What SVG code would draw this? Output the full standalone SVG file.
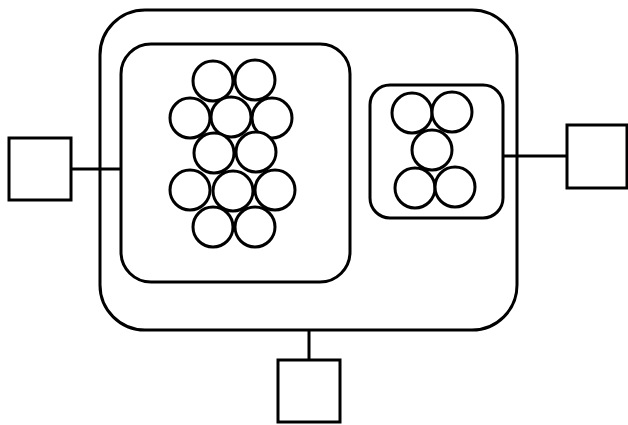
<svg xmlns="http://www.w3.org/2000/svg" width="628" height="425" viewBox="0 0 628 425">
<style>
.s{fill:none;stroke:#000;stroke-width:3}
.c{fill:#fff;stroke:#000;stroke-width:3}
.l{stroke:#000;stroke-width:3;fill:none}
</style>
<rect width="628" height="425" fill="#fff"/>
<g id="connectors">
<line class="l" x1="71" y1="169" x2="121" y2="169"/>
<line class="l" x1="503" y1="156" x2="567" y2="156"/>
<line class="l" x1="309" y1="330" x2="309" y2="360"/>
</g>
<g id="outer"><rect class="s" x="100" y="10" width="417" height="320" rx="45"/></g>
<g id="innerLeft"><rect class="s" x="121" y="44" width="229" height="238" rx="30"/>
<circle class="c" cx="213" cy="81" r="20"/>
<circle class="c" cx="255" cy="80" r="20"/>
<circle class="c" cx="190" cy="118" r="20"/>
<circle class="c" cx="231" cy="117" r="20"/>
<circle class="c" cx="272" cy="118" r="20"/>
<circle class="c" cx="214" cy="153" r="20"/>
<circle class="c" cx="256" cy="152" r="20"/>
<circle class="c" cx="190" cy="190" r="20"/>
<circle class="c" cx="233" cy="191" r="20"/>
<circle class="c" cx="275" cy="190" r="20"/>
<circle class="c" cx="213" cy="227" r="20"/>
<circle class="c" cx="255" cy="227" r="20"/>
</g>
<g id="innerRight"><rect class="s" x="370" y="85" width="133" height="133" rx="20"/>
<circle class="c" cx="412" cy="113" r="20"/>
<circle class="c" cx="452" cy="112" r="20"/>
<circle class="c" cx="432" cy="150" r="20"/>
<circle class="c" cx="415" cy="188" r="20"/>
<circle class="c" cx="455" cy="187" r="20"/>
</g>
<g id="boxLeft"><rect class="s" x="9" y="138" width="62" height="62"/></g>
<g id="boxRight"><rect class="s" x="567" y="125" width="60" height="63"/></g>
<g id="boxBottom"><rect class="s" x="278" y="360" width="62" height="62"/></g>
</svg>
